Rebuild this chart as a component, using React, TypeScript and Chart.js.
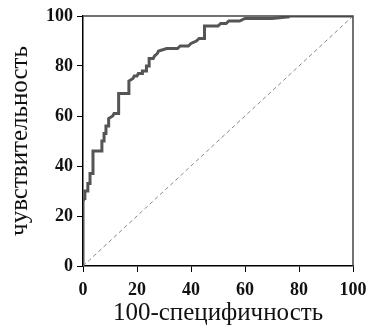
import React, { useEffect, useRef } from "react";
import { Chart, registerables } from "chart.js";

Chart.register(...registerables);

// 100 - specificity (x) and sensitivity (y) of the ROC curve
const fprValues = [0, 0, 0.5, 0.7, 1.8, 1.8, 2.6, 2.6, 3.7, 3.7, 7, 7, 7.8, 7.8, 8.5, 8.5, 9.5, 9.5, 11, 11.5, 13, 13, 13.3, 13.3, 17, 17, 18.5, 19, 20, 20.5, 22, 22, 23.5, 23.5, 24.5, 24.5, 26, 26.5, 27.5, 28, 31, 35, 36, 39, 40, 42, 43, 45, 45, 50, 51, 53, 54, 58, 60, 70, 76, 76, 100];
const tprValues = [0, 26, 27, 30, 30, 33, 33, 37, 37, 46, 46, 50, 50, 53, 53, 56, 56, 59, 60, 61, 61, 62, 62, 69, 69, 74, 75, 76, 76, 77, 77, 78, 78, 80, 80, 83, 83, 84, 85, 86, 87, 87, 88, 88, 89, 90, 91, 91, 96, 96, 97, 97, 98, 98, 99, 99, 99.6, 100, 100];
const diagonalX = [0, 100];
const diagonalY = [0, 100];
const tickValues = [0, 20, 40, 60, 80, 100];
const xTitle = "100-специфичность";
const yTitle = "чувствительность";

const FONT = '"Liberation Serif", serif';

export default function App() {
  const ref = useRef<HTMLCanvasElement | null>(null);

  useEffect(() => {
    document.body.style.margin = "0";
    const canvas = ref.current;
    if (!canvas) return;
    let chart: Chart | null = null;
    let cancelled = false;

    const frame = {
      id: "frame",
      afterDatasetsDraw(c: any) {
        const { ctx, chartArea } = c;
        ctx.save();
        ctx.strokeStyle = "#444";
        ctx.lineWidth = 1.5;
        ctx.beginPath();
        ctx.moveTo(chartArea.left, chartArea.top);
        ctx.lineTo(chartArea.right, chartArea.top);
        ctx.lineTo(chartArea.right, chartArea.bottom);
        ctx.stroke();
        ctx.restore();
      },
    };

    const build = () => {
      if (cancelled) return;
      chart = new Chart(canvas, {
        type: "line",
        data: {
          datasets: [
            {
              data: diagonalX.map((x, i) => ({ x, y: diagonalY[i] })),
              borderColor: "#888",
              borderWidth: 1,
              borderDash: [4, 3],
              pointRadius: 0,
              fill: false,
            },
            {
              data: fprValues.map((x, i) => ({ x, y: tprValues[i] })),
              borderColor: "#555",
              borderWidth: 3,
              pointRadius: 0,
              fill: false,
              tension: 0,
            },
          ],
        },
        options: {
          responsive: false,
          animation: false,
          events: [],
          layout: { padding: { left: 0, top: 16, right: 29, bottom: 0 } },
          plugins: { legend: { display: false }, tooltip: { enabled: false } },
          scales: {
            x: {
              type: "linear",
              min: 0,
              max: 100,
              afterBuildTicks: (s: any) => {
                s.ticks = tickValues.map((v) => ({ value: v }));
              },
              afterFit: (s: any) => {
                s.height = 59;
              },
              grid: { drawOnChartArea: false, tickLength: 6, tickColor: "#000", tickWidth: 1 },
              border: { color: "#000", width: 1.5 },
              ticks: {
                color: "#111",
                font: { family: FONT, size: 18, weight: "bold" },
                padding: 8,
                maxRotation: 0,
              },
              title: {
                display: true,
                text: xTitle,
                color: "#111",
                font: { family: FONT, size: 25, lineHeight: 0.9 },
                padding: { top: 0, bottom: 0 },
              },
            },
            y: {
              type: "linear",
              min: 0,
              max: 100,
              afterBuildTicks: (s: any) => {
                s.ticks = tickValues.map((v) => ({ value: v }));
              },
              afterFit: (s: any) => {
                s.width = 83;
              },
              grid: { drawOnChartArea: false, tickLength: 6, tickColor: "#000", tickWidth: 1 },
              border: { color: "#000", width: 1.5 },
              ticks: {
                color: "#111",
                font: { family: FONT, size: 18, weight: "bold" },
                padding: 4,
              },
              title: {
                display: true,
                text: yTitle,
                color: "#111",
                font: { family: FONT, size: 25 },
                padding: { top: 5, bottom: 0 },
              },
            },
          },
        },
        plugins: [frame],
      });
    };

    const fonts: any = (document as any).fonts;
    if (fonts && fonts.load) {
      Promise.all([
        fonts.load('bold 18px "Liberation Serif"'),
        fonts.load('25px "Liberation Serif"'),
      ])
        .catch(() => undefined)
        .then(build);
    } else {
      build();
    }

    return () => {
      cancelled = true;
      if (chart) chart.destroy();
    };
  }, []);

  return (
    <div style={{ width: 382, height: 325, background: "#fff" }}>
      <canvas ref={ref} width={382} height={325} style={{ display: "block" }} />
    </div>
  );
}
